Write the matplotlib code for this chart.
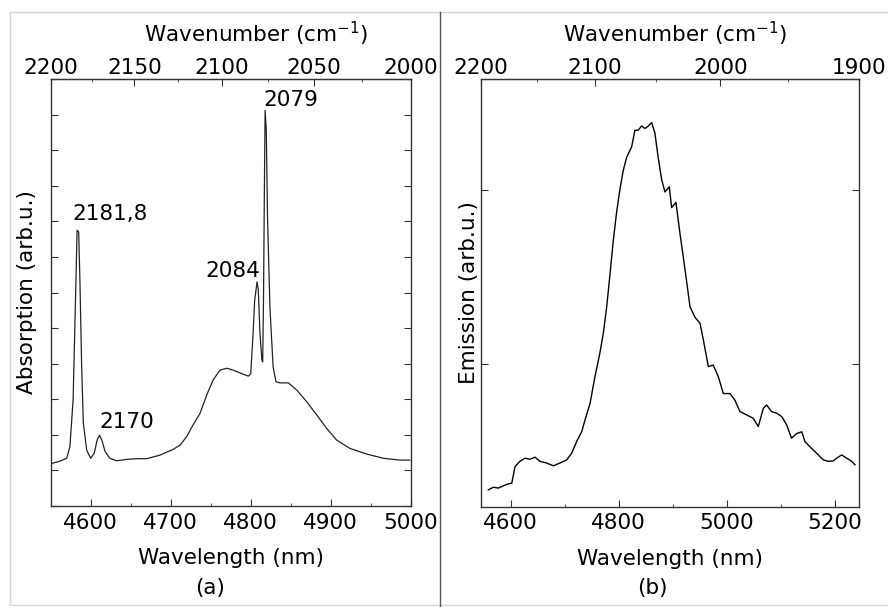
import numpy as np
import matplotlib
matplotlib.use("Agg")
import matplotlib.pyplot as plt
from matplotlib.ticker import MultipleLocator, NullFormatter, FixedLocator
from matplotlib.lines import Line2D

# (a) absorption spectrum, wavelength in nm, absorption in arb. units
abs_wavelength = [4549, 4561.6, 4570, 4574, 4578, 4581, 4583, 4585, 4586.6, 4588.7,
                  4590.8, 4595, 4600, 4604.5, 4608, 4611, 4614, 4618, 4624, 4632.5,
                  4645, 4657.5, 4670, 4686.6, 4703, 4711.6, 4720, 4728, 4736.6, 4745,
                  4753, 4761.6, 4770, 4778, 4786.6, 4797, 4800, 4803, 4805, 4808,
                  4809.5, 4811.6, 4814, 4815, 4816, 4817, 4818, 4819.5, 4821, 4824,
                  4828, 4831.6, 4836.6, 4847, 4857.5, 4870, 4882.5, 4895, 4907.5, 4924,
                  4945, 4966, 4986.6, 4999]
abs_value = [1.18, 1.26, 1.34, 1.67, 2.98, 5.79, 7.75, 7.70, 6.26, 3.91,
             2.33, 1.57, 1.34, 1.49, 1.85, 1.99, 1.85, 1.53, 1.34, 1.27,
             1.31, 1.33, 1.33, 1.43, 1.59, 1.71, 1.95, 2.28, 2.60, 3.12,
             3.54, 3.82, 3.87, 3.82, 3.74, 3.65, 3.71, 4.85, 5.79, 6.30,
             6.07, 4.85, 4.10, 4.05, 5.79, 8.60, 11.12, 10.56, 8.13, 5.60,
             3.91, 3.49, 3.46, 3.46, 3.26, 2.93, 2.56, 2.18, 1.85, 1.62,
             1.46, 1.34, 1.29, 1.29]

# peak labels (wavenumbers, cm-1) and where they sit
peak_labels = ["2181,8", "2170", "2084", "2079"]
peak_label_x = [4576.6, 4610.4, 4742.9, 4815.4]
peak_label_y = [8.03, 2.19, 6.44, 11.24]

# (b) emission spectrum
em_wavelength = [4558.6, 4568, 4577, 4586, 4595.5, 4602, 4608, 4617, 4626.5, 4635.7,
                 4645, 4654, 4666.7, 4679, 4691, 4703.7, 4713, 4722, 4731.5, 4737.6,
                 4747, 4756, 4765, 4771.5, 4777.8, 4784, 4790, 4796, 4802, 4808.5,
                 4814.8, 4824, 4830, 4836, 4842.6, 4848.7, 4855, 4861, 4867, 4873,
                 4879.6, 4885.7, 4893.7, 4898, 4906, 4913.5, 4923, 4932, 4941, 4950.6,
                 4956.7, 4966, 4975, 4984.5, 4993.7, 5006, 5015, 5024.6, 5037, 5049,
                 5058.5, 5067.8, 5074, 5083, 5092.6, 5102, 5111, 5120, 5129.6, 5139,
                 5145, 5157, 5169.6, 5179, 5188, 5197, 5203.7, 5213, 5222, 5231.5,
                 5237.6]
em_value = [0.276, 0.291, 0.286, 0.299, 0.310, 0.314, 0.41, 0.44, 0.458, 0.452,
            0.464, 0.44, 0.43, 0.414, 0.43, 0.448, 0.487, 0.553, 0.61, 0.678,
            0.774, 0.927, 1.061, 1.176, 1.33, 1.52, 1.71, 1.87, 2.00, 2.115,
            2.19, 2.25, 2.345, 2.345, 2.37, 2.355, 2.37, 2.39, 2.33, 2.19,
            2.06, 1.99, 2.02, 1.90, 1.93, 1.75, 1.54, 1.33, 1.27, 1.234,
            1.14, 0.985, 0.994, 0.927, 0.83, 0.83, 0.793, 0.726, 0.707, 0.688,
            0.64, 0.745, 0.764, 0.726, 0.717, 0.697, 0.65, 0.573, 0.60, 0.61,
            0.553, 0.515, 0.477, 0.448, 0.44, 0.442, 0.458, 0.477, 0.458, 0.44,
            0.42]

FS = 15.5
SPINE = "#333333"
plt.rcParams["font.family"] = ["DejaVu Sans"]
plt.rcParams["mathtext.fontset"] = "dejavusans"


def top_axis(ax, xmin, xmax, nu0, nu1, majors, minors):
    # top scale runs from nu0 at the left frame to nu1 at the right, in 1/nu
    def fwd(lam):
        lam = np.asarray(lam, dtype=float)
        f = (lam - xmin) / (xmax - xmin)
        with np.errstate(divide="ignore", invalid="ignore"):
            return 1.0 / (1.0 / nu0 + f * (1.0 / nu1 - 1.0 / nu0))

    def inv(nu):
        nu = np.asarray(nu, dtype=float)
        with np.errstate(divide="ignore", invalid="ignore"):
            return xmin + (1.0 / nu - 1.0 / nu0) / (1.0 / nu1 - 1.0 / nu0) * (xmax - xmin)

    sec = ax.secondary_xaxis("top", functions=(fwd, inv))
    sec.xaxis.set_major_locator(FixedLocator(majors))
    sec.xaxis.set_minor_locator(FixedLocator(minors))
    sec.tick_params(which="both", direction="in", labelsize=FS, color=SPINE, pad=0.5)
    sec.tick_params(which="major", length=5)
    sec.tick_params(which="minor", length=2.5)
    sec.spines["top"].set_color(SPINE)
    return sec


def style(ax):
    for s in ax.spines.values():
        s.set_color(SPINE)
        s.set_linewidth(1.0)
    ax.tick_params(which="both", direction="in", top=False, right=True,
                   labelsize=FS, color=SPINE, pad=5)
    ax.tick_params(axis="y", pad=0)
    ax.tick_params(which="major", length=5)
    ax.tick_params(which="minor", length=2.5)
    ax.yaxis.set_major_formatter(NullFormatter())
    ax.tick_params(axis="y", which="minor", left=False, right=False)


fig = plt.figure(figsize=(8.88, 6.07), dpi=100)
ax1 = fig.add_axes([50.7 / 888, 1 - 506 / 607, 360 / 888, 427 / 607])
ax2 = fig.add_axes([481 / 888, 1 - 506.5 / 607, 378 / 888, 427.5 / 607])

# panel (a)
ax1.plot(abs_wavelength, abs_value, color="#222222", lw=0.9)
ax1.set_xlim(4550, 5000)
ax1.set_ylim(0, 12)
ax1.xaxis.set_major_locator(MultipleLocator(100))
ax1.xaxis.set_minor_locator(MultipleLocator(50))
ax1.yaxis.set_major_locator(MultipleLocator(1))
style(ax1)
ax1.set_xlabel("Wavelength (nm)", fontsize=FS, labelpad=11)
ax1.set_ylabel("Absorption (arb.u.)", fontsize=FS, labelpad=10)
for lab, lx, ly in zip(peak_labels, peak_label_x, peak_label_y):
    ax1.text(lx, ly, lab, fontsize=FS, ha="left", va="baseline")
top_axis(ax1, 4550, 5000, 2200, 2000,
         [2200, 2150, 2100, 2050, 2000], [2175, 2125, 2075, 2025])
ax1.text(0.57, 1.087, "Wavenumber (cm$^{-1}$)", transform=ax1.transAxes,
         fontsize=FS, ha="center", va="baseline")

# panel (b)
ax2.plot(em_wavelength, em_value, color="black", lw=1.0)
ax2.set_xlim(4545, 5245)
ax2.set_ylim(0.18, 2.64)
ax2.xaxis.set_major_locator(MultipleLocator(200))
ax2.xaxis.set_minor_locator(MultipleLocator(100))
ax2.yaxis.set_major_locator(MultipleLocator(1))
style(ax2)
ax2.set_xlabel("Wavelength (nm)", fontsize=FS, labelpad=11)
ax2.set_ylabel("Emission (arb.u.)", fontsize=FS, labelpad=1.5)
top_axis(ax2, 4545, 5245, 2200, 1900, [2200, 2100, 2000, 1900], [2150, 2050, 1950])
ax2.text(0.513, 1.087, "Wavenumber (cm$^{-1}$)", transform=ax2.transAxes,
         fontsize=FS, ha="center", va="baseline")

fig.text(210 / 888, 1 - 588 / 607, "(a)", fontsize=FS, ha="center", va="center")
fig.text(652 / 888, 1 - 588 / 607, "(b)", fontsize=FS, ha="center", va="center")

# outer frame and the divider between panels
fig.add_artist(Line2D([10 / 888, 1], [1 - 12 / 607] * 2, color="#d4d4d4", lw=1))
fig.add_artist(Line2D([10 / 888] * 2, [1 - 12 / 607, 1 - 605 / 607], color="#d4d4d4", lw=1))
fig.add_artist(Line2D([10 / 888, 1], [1 - 605 / 607] * 2, color="#d4d4d4", lw=1))
fig.add_artist(Line2D([440 / 888] * 2, [1 - 12 / 607, 0], color="#555555", lw=1))

fig.savefig("out.png", dpi=100)
